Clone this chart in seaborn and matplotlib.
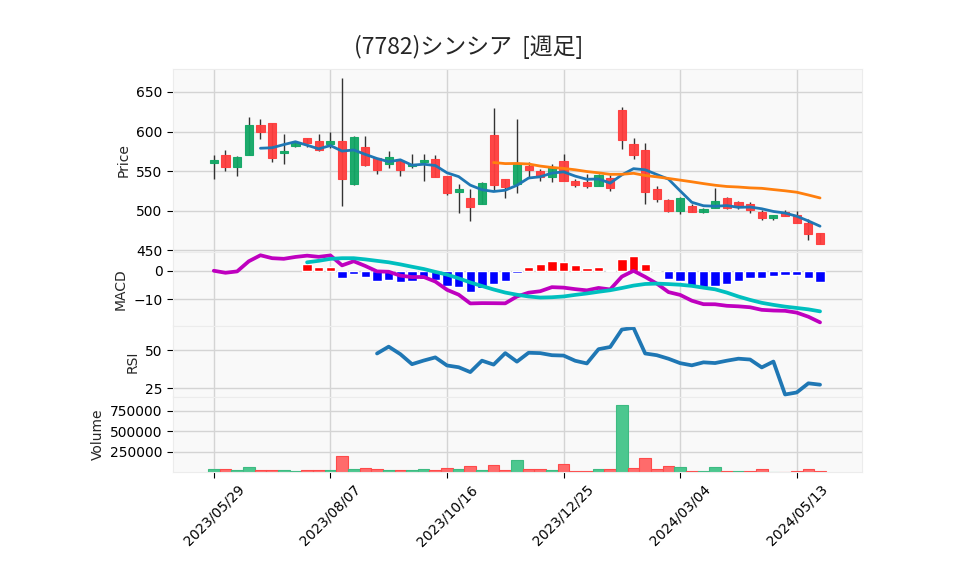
import matplotlib
matplotlib.use('Agg')
import matplotlib.pyplot as plt
import numpy as np
import pandas as pd
import seaborn as sns

# ---- weekly prices (7782) ----
opens = [560, 570, 555, 570, 608, 611, 573, 582, 592, 588, 584, 588, 534, 580, 567, 559, 563, 556,
         561, 566, 544, 524, 516, 509, 596, 540, 534, 557, 550, 543, 563, 538, 537, 531, 542, 627,
         584, 577, 528, 514, 500, 506, 499, 503, 516, 511, 508, 499, 491, 499, 495, 484, 472]
highs = [571, 577, 569, 618, 616, 611, 597, 588, 592, 597, 600, 668, 594, 595, 567, 576, 566, 572,
         572, 570, 544, 534, 527, 537, 630, 540, 616, 562, 553, 559, 572, 540, 546, 546, 545, 631,
         592, 585, 531, 515, 518, 508, 504, 529, 518, 513, 511, 501, 495, 501, 500, 490, 472]
lows = [540, 550, 544, 570, 591, 561, 559, 580, 580, 576, 579, 506, 533, 557, 546, 554, 544, 554,
        538, 543, 520, 497, 487, 509, 526, 516, 522, 543, 538, 536, 538, 530, 529, 531, 525, 578,
        566, 508, 511, 499, 496, 498, 497, 503, 502, 502, 497, 489, 489, 493, 484, 463, 458]
closes = [564, 555, 568, 608, 600, 567, 575, 586, 586, 577, 588, 540, 593, 558, 551, 568, 552, 559,
          564, 543, 522, 528, 505, 535, 532, 530, 559, 551, 543, 555, 538, 532, 531, 545, 529, 590,
          571, 524, 515, 500, 516, 499, 502, 512, 504, 505, 501, 491, 495, 494, 485, 471, 458]
volumes = [33000, 33000, 21000, 57000, 21000, 21000, 21000, 9000, 21000, 21000, 21000, 193000,
           33000, 45000, 33000, 21000, 21000, 21000, 33000, 21000, 45000, 33000, 70000, 21000,
           82000, 21000, 144000, 33000, 33000, 21000, 95000, 18000, 18000, 33000, 33000, 821000,
           45000, 168000, 33000, 70000, 57000, 18000, 18000, 57000, 18000, 18000, 18000, 33000,
           5000, 5000, 18000, 33000, 18000]
start_date = '2023-05-29'
title = '(7782)シンシア  [週足]'

df = pd.DataFrame({'Open': opens, 'High': highs, 'Low': lows, 'Close': closes, 'Volume': volumes},
                  index=pd.date_range(start_date, periods=len(closes), freq='7D'))
df['x'] = np.arange(len(df))

# ---- indicators ----
df['ma5'] = df['Close'].rolling(5).mean()
df['ma25'] = df['Close'].rolling(25).mean()
ema12 = df['Close'].ewm(span=12, adjust=False).mean()
ema26 = df['Close'].ewm(span=26, adjust=False).mean()
df['macd'] = ema12 - ema26
df['signal'] = df['macd'].rolling(9).mean()
df['hist'] = df['macd'] - df['signal']
diff = df['Close'].diff()
gain = diff.clip(lower=0).rolling(14).mean()
loss = (-diff.clip(upper=0)).rolling(14).mean()
df['rsi'] = 100 * gain / (gain + loss)

# ---- style ----
sns.set_style('whitegrid', {'axes.facecolor': '#f9f9f9', 'grid.color': '#d4d4d4',
                            'axes.edgecolor': '#e8e8e8'})
plt.rcParams['font.family'] = ['DejaVu Sans', 'Noto Sans CJK JP']
plt.rcParams['xtick.bottom'] = True
plt.rcParams['ytick.left'] = True
plt.rcParams['xtick.major.size'] = 4
plt.rcParams['ytick.major.size'] = 4
plt.rcParams['xtick.color'] = 'black'
plt.rcParams['ytick.color'] = 'black'

UP = '#12a765'
DOWN = '#ff3d3d'

fig = plt.figure(figsize=(9.58, 5.75), dpi=100)
L, W = 0.1806, 0.7192
ax1 = fig.add_axes([L, 0.5617, W, 0.3183])
ax2 = fig.add_axes([L, 0.4330, W, 0.1287], sharex=ax1)
ax3 = fig.add_axes([L, 0.3096, W, 0.1234], sharex=ax1)
ax4 = fig.add_axes([L, 0.1791, W, 0.1305], sharex=ax1)

# ---- candles ----
up = df['Close'] >= df['Open']
ccol = np.where(up, UP, DOWN)
ax1.vlines(df['x'], df['Low'], df['High'], color='#333333', linewidth=1, zorder=2)
ax1.bar(df['x'], df['Close'] - df['Open'], bottom=df['Open'], width=0.7, color=ccol,
        edgecolor=ccol, linewidth=0.8, alpha=0.95, zorder=3)
sns.lineplot(x=df['x'], y=df['ma5'], ax=ax1, color='#1f77b4', linewidth=2, zorder=4)
sns.lineplot(x=df['x'], y=df['ma25'], ax=ax1, color='#ff7f0e', linewidth=2, zorder=4)
ax1.set_ylim(448, 679)
ax1.set_yticks([450, 500, 550, 600, 650])
ax1.set_ylabel('Price')

# ---- MACD ----
hcol = np.where(df['hist'] >= 0, '#ff0000', '#0000ff')
ax2.bar(df['x'], df['hist'], width=0.8, color=hcol, zorder=2)
sns.lineplot(x=df['x'], y=df['macd'], ax=ax2, color='#bf00bf', linewidth=2.7, zorder=3)
sns.lineplot(x=df['x'], y=df['signal'], ax=ax2, color='#00bfbf', linewidth=2.7, zorder=3)
ax2.set_ylim(-19.5, 6.6)
ax2.set_yticks([-10, 0])
ax2.set_ylabel('MACD')

# ---- RSI ----
sns.lineplot(x=df['x'], y=df['rsi'], ax=ax3, color='#1f77b4', linewidth=2.7)
ax3.set_ylim(19.1, 65.8)
ax3.set_yticks([25, 50])
ax3.set_ylabel('RSI')

# ---- Volume ----
vup = [True] + [c > p for p, c in zip(closes[:-1], closes[1:])]
vcol = np.where(vup, '#4cc78f', '#ff6b6b')
vedge = np.where(vup, '#3dbb82', '#ff4a4a')
ax4.bar(df['x'], df['Volume'], width=1.0, color=vcol, edgecolor=vedge, linewidth=0.8, zorder=2)
ax4.set_ylim(0, 922000)
ax4.set_yticks([250000, 500000, 750000])
ax4.set_ylabel('Volume')

ticks = df['x'].iloc[::10]
ax4.set_xticks(ticks)
ax4.set_xticklabels(df.index[::10].strftime('%Y/%m/%d'), rotation=45)
ax4.set_xlim(-3.5, 55.6)

for ax in (ax1, ax2, ax3, ax4):
    ax.grid(True, color='#d4d4d4', linewidth=1)
    ax.tick_params(labelsize=10)
    ax.set_xlabel('')
    for s in ax.spines.values():
        s.set_color('#ececec')
for ax in (ax1, ax2, ax3):
    ax.tick_params(axis='x', labelbottom=False, bottom=False)

fig.suptitle(title, x=0.489, y=0.94, fontsize=16.5, family=['Noto Sans CJK JP', 'DejaVu Sans'])

fig.savefig('out.png', dpi=100)
